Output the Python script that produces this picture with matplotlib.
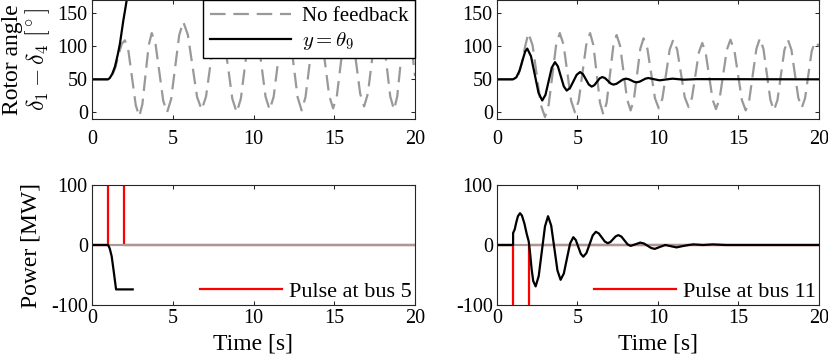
import numpy as np
import matplotlib
matplotlib.use("Agg")
import matplotlib.pyplot as plt

plt.rcParams['font.family'] = ['serif']
plt.rcParams['font.serif'] = ['Liberation Serif', 'DejaVu Serif']
plt.rcParams['mathtext.fontset'] = 'cm'
plt.rcParams['axes.unicode_minus'] = False

# --- rotor angle, pulse at bus 5 (left) ---
t_nofb_5 = [0, 1.0, 1.2, 1.45, 1.7, 1.85, 2.04, 2.26, 2.485, 2.71, 2.93,
            3.12, 3.315, 3.51, 3.7, 3.94, 4.175, 4.41, 4.65, 4.9, 5.15, 5.4, 5.65,
            5.935, 6.22, 6.505, 6.79, 7.06, 7.33, 7.6, 7.87, 8.13, 8.415, 8.69, 8.96,
            9.215, 9.47, 9.725, 9.98, 10.235, 10.49, 10.745, 11.0, 11.25, 11.495, 11.74,
            11.99, 12.24, 12.485, 12.73, 12.98, 13.22, 13.465, 13.71, 13.95, 14.195,
            14.44, 14.685, 14.93, 15.165, 15.4, 15.635, 15.87, 16.115, 16.36, 16.605,
            16.85, 17.08, 17.315, 17.55, 17.78, 18.01, 18.24, 18.47, 18.7, 18.9, 19.1,
            19.3, 19.48, 19.7, 19.92, 20.0]
y_nofb_5 = [50, 50, 53, 68, 92, 104, 109, 92.2, 51.5, 10.8, -6,
            12.5, 57, 101.5, 120, 102.4, 60, 17.6, 0, 20.1, 68.5, 116.9, 137,
            117.5, 70.5, 23.5, 4, 23.9, 72, 120.1, 140, 119.5, 70, 20.5, 0,
            20.5, 70, 119.5, 140, 120.1, 72, 23.9, 4, 23.9, 72, 120.1,
            140, 119.9, 71.5, 23.1, 3, 23.1, 71.5, 119.9, 140, 120.4,
            73, 25.6, 6, 25.6, 73, 120.4, 140, 120.8, 74.5, 28.2,
            9, 28.2, 74.5, 120.8, 140, 120.1, 72, 23.9, 4, 24, 72,
            120, 140, 120, 72, 55]
t_fb_5 = [0, 1.0, 1.1, 1.25, 1.42, 1.6, 1.73, 1.85, 1.94, 2.05, 2.15, 2.3]
y_fb_5 = [50, 50, 52, 58, 69, 88, 104, 124, 139, 155, 170, 195]

# --- rotor angle, pulse at bus 11 (right) ---
t_nofb_11 = [0, 1.0, 1.3, 1.55, 1.75, 1.95, 2.21, 2.47, 2.72, 2.98, 3.21, 3.44,
             3.67, 3.9, 4.135, 4.37, 4.605, 4.84, 5.075, 5.31, 5.545, 5.78, 5.985,
             6.19, 6.395, 6.6, 6.81, 7.015, 7.22, 7.43, 7.65, 7.865, 8.08, 8.3, 8.5,
             8.7, 8.9, 9.1, 9.34, 9.575, 9.81, 10.05, 10.275, 10.5, 10.725, 10.95,
             11.19, 11.425, 11.66, 11.9, 12.11, 12.325, 12.54, 12.75, 12.96, 13.175,
             13.39, 13.6, 13.825, 14.05, 14.275, 14.5, 14.74, 14.975, 15.21, 15.45,
             15.67, 15.89, 16.11, 16.33, 16.55, 16.765, 16.98, 17.2, 17.42, 17.635,
             17.85, 18.07, 18.285, 18.5, 18.715, 18.93, 19.135, 19.34, 19.545, 19.75,
             19.95, 20.0]
y_nofb_11 = [50, 50, 55, 75, 100, 120, 101.4, 56.5, 11.6, -7, 11.6, 56.5,
             101.4, 120, 102.4, 60, 17.6, 0, 17.6, 60, 102.4, 120, 102,
             58.5, 15, -3, 14.6, 57, 99.4, 117, 100.3, 60, 19.7, 3, 19,
             57.5, 96, 112, 96.5, 59, 21.5, 6, 21.2, 58, 94.8, 110,
             95, 59, 23, 8, 22.2, 56.5, 90.8, 105, 90.4, 55,
             19.6, 5, 20.4, 57.5, 94.6, 110, 94.3, 56.5, 18.7, 3,
             19, 57.5, 96, 112, 96, 57.5, 19, 3, 18.7, 56.5,
             94.3, 110, 94.9, 58.5, 22.1, 7, 21.6, 57, 92.4, 107,
             102, 100]
t_fb_11 = [0, 1.0, 1.2, 1.4, 1.6, 1.75, 1.88, 2.11, 2.345, 2.58, 2.81, 3.01, 3.205,
           3.40, 3.6, 3.78, 3.965, 4.15, 4.33, 4.54, 4.745, 4.95, 5.16, 5.34, 5.52,
           5.70, 5.88, 6.045, 6.21, 6.375, 6.54, 6.71, 6.885, 7.06, 7.23, 7.425, 7.62,
           7.815, 8.01, 8.18, 8.345, 8.51, 8.68, 8.86, 9.04, 9.22, 9.4, 9.75, 10.1,
           10.5, 10.9, 11.6, 12.4, 20.0]
y_fb_11 = [50, 50, 53, 63, 80, 92, 96.5, 85, 57.3, 29.5, 18, 26.5, 47,
           67.5, 76, 69.7, 54.5, 39.3, 33, 37.1, 47, 56.9, 61, 57.8, 50,
           42.2, 39, 41.1, 46.3, 51.4, 53.5, 51.8, 47.8, 43.7, 42, 43.3, 46.5,
           49.7, 51, 50.2, 48.3, 46.3, 45.5, 46.5, 48.75, 51, 52, 50.2, 48.5,
           49.8, 51, 49.5, 50.3, 50]

# --- injected power ---
t_pulse = [0, 1, 1, 2, 2, 20]
p_pulse_5 = [0, 0, 150, 150, 0, 0]
p_pulse_11 = [0, 0, -150, -150, 0, 0]
t_zero = [0, 20]
p_zero = [0, 0]
t_pow_5 = [0, 1.0, 1.1, 1.22, 1.36, 1.49, 2.52]
p_pow_5 = [0, 0, -6, -19, -47, -74, -74]
t_pow_11 = [0, 1.0, 1.0, 1.1, 1.2, 1.3, 1.43, 1.55, 1.7, 1.85, 1.97, 2.05, 2.15,
            2.25, 2.4, 2.59, 2.785, 2.98, 3.17, 3.365, 3.56, 3.755, 3.95, 4.15,
            4.345, 4.54, 4.74, 4.895, 5.05, 5.205, 5.36, 5.555, 5.75, 5.945, 6.14,
            6.325, 6.51, 6.695, 6.88, 7.045, 7.21, 7.375, 7.54, 7.73, 7.92, 8.11,
            8.3, 8.6, 8.9, 9.125, 9.35, 9.575, 9.8, 10.12, 10.45, 10.8, 11.15, 11.5,
            11.9, 12.2, 12.8, 13.4, 14.2, 20.0]
p_pow_11 = [0, 0, 20, 26, 38, 48, 53, 49, 36, 18, 6, -12, -40,
            -60, -69, -51.9, -10.5, 30.9, 48, 32.5, -5, -42.5, -58, -47.6,
            -22.5, 2.6, 13, 8.2, -3.3, -14.7, -19.5, -13.4, 1.2, 15.9, 22,
            19.2, 12.5, 5.8, 3, 5, 9.8, 14.5, 16.5, 13.9, 7.5, 1.1,
            -1.5, 1.2, 4, 2.5, -1.2, -5, -6.5, -3.2, 0, -2, -4, -2,
            0, 1, 0, 1, 0, 0]

GRAY = (0.6, 0.6, 0.6)
ZERO_GRAY = (0.66, 0.6, 0.6)
FS_TICK = 14.5
FS_LABEL = 17
FS_LEG = 16

fig = plt.figure(figsize=(8.29, 3.61), dpi=100)
ax_tl = fig.add_axes([92 / 829, 1 - 119 / 361, 323 / 829, 119 / 361])
ax_tr = fig.add_axes([497 / 829, 1 - 119 / 361, 322 / 829, 119 / 361])
ax_bl = fig.add_axes([92 / 829, 1 - 305 / 361, 323 / 829, 120 / 361])
ax_br = fig.add_axes([497 / 829, 1 - 305 / 361, 322 / 829, 120 / 361])


def style_axis(ax, yticks, ylim, xpad):
    ax.set_xlim(0, 20)
    ax.set_ylim(*ylim)
    ax.set_xticks([0, 5, 10, 15, 20])
    ax.set_yticks(yticks)
    ax.tick_params(axis='both', direction='in', top=True, right=True,
                   length=3, width=0.75, labelsize=FS_TICK, color='0.15')
    ax.tick_params(axis='x', pad=xpad)
    ax.tick_params(axis='y', pad=3)
    for sp in ax.spines.values():
        sp.set_linewidth(0.8)
        sp.set_color('0.15')


# top row
ax_tl.plot(t_nofb_5, y_nofb_5, color=GRAY, lw=1.6, dashes=(7, 3.5), label='No feedback')
ax_tl.plot(t_fb_5, y_fb_5, color='black', lw=1.6, label=r'$y = \theta_9$')
ax_tr.plot(t_nofb_11, y_nofb_11, color=GRAY, lw=1.6, dashes=(7, 3.5))
ax_tr.plot(t_fb_11, y_fb_11, color='black', lw=1.6)
for ax in (ax_tl, ax_tr):
    style_axis(ax, [0, 50, 100, 150], (-10, 170), 8)

leg = ax_tl.legend(loc='upper right', borderaxespad=0, fancybox=False,
                   edgecolor='black', framealpha=1, fontsize=15,
                   handlelength=3.9, handletextpad=0.55, labelspacing=0.2,
                   borderpad=0.3)
leg.get_frame().set_linewidth(1.0)

ax_tl.set_ylabel('Rotor angle\n' + r'$\delta_1 - \delta_4\ [^\circ]$',
                 fontsize=FS_LABEL, linespacing=1.0)
ax_tl.yaxis.set_label_coords(-0.125, 0.5)

# bottom row
ax_bl.plot(t_pulse, p_pulse_5, color='red', lw=1.6, label='Pulse at bus 5')
ax_bl.plot(t_zero, p_zero, color=ZERO_GRAY, lw=1.6)
ax_bl.plot(t_pow_5, p_pow_5, color='black', lw=1.6)
ax_br.plot(t_pulse, p_pulse_11, color='red', lw=1.6, label='Pulse at bus 11')
ax_br.plot(t_zero, p_zero, color=ZERO_GRAY, lw=1.6)
ax_br.plot(t_pow_11, p_pow_11, color='black', lw=1.6)
for ax in (ax_bl, ax_br):
    style_axis(ax, [-100, 0, 100], (-100, 100), 3)
    ax.legend(loc='lower right', frameon=False, fontsize=FS_LEG,
              handlelength=3.7, handletextpad=0.3, borderaxespad=0.0,
              borderpad=0.15)
    ax.set_xlabel('Time [s]', fontsize=FS_LABEL, labelpad=4)

ax_bl.set_ylabel('Power [MW]', fontsize=FS_LABEL)
ax_bl.yaxis.set_label_coords(-0.155, 0.5)

fig.savefig('out.png', dpi=100)
